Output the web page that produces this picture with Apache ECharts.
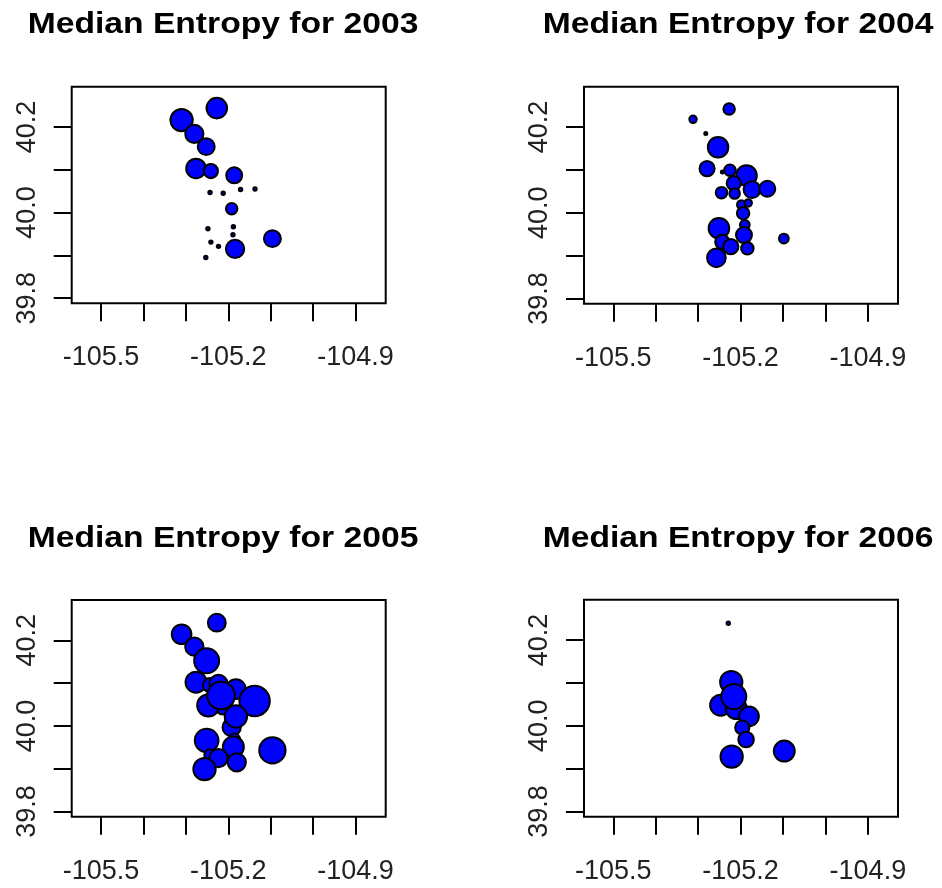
<!DOCTYPE html>
<html>
<head>
<meta charset="utf-8">
<script src="https://cdn.jsdelivr.net/npm/echarts@6/dist/echarts.min.js"></script>
<style>html,body{margin:0;padding:0;background:#fff}#c{width:942px;height:888px}</style>
</head>
<body>
<div id="c"></div>
<script>
// ---- data ----
const years = ['2003', '2004', '2005', '2006'];

const lon2003 = [-105.227,-105.310,-105.280,-105.252,-105.276,-105.241,-105.186,-105.243,-105.212,-105.171,-105.137,-105.192,-105.248,-105.188,-105.189,-105.241,-105.223,-105.184,-105.096,-105.253];
const lat2003 = [40.244,40.216,40.184,40.154,40.103,40.097,40.087,40.047,40.045,40.054,40.055,40.009,39.962,39.967,39.948,39.931,39.921,39.915,39.939,39.895];
const ent2003 = [1.67,1.80,1.50,1.40,1.60,1.20,1.33,0.40,0.40,0.40,0.40,1.00,0.40,0.40,0.40,0.40,0.40,1.50,1.40,0.40];

const lon2004 = [-105.227,-105.312,-105.282,-105.253,-105.279,-105.225,-105.243,-105.186,-105.216,-105.245,-105.214,-105.173,-105.137,-105.198,-105.182,-105.194,-105.190,-105.251,-105.192,-105.243,-105.223,-105.184,-105.098,-105.257];
const lat2004 = [40.242,40.218,40.185,40.153,40.103,40.099,40.095,40.087,40.069,40.047,40.045,40.054,40.056,40.019,40.023,39.999,39.972,39.964,39.948,39.932,39.921,39.917,39.940,39.895];
const ent2004 = [1.00,0.70,0.35,1.67,1.27,1.00,0.35,1.67,1.20,1.00,0.93,1.40,1.33,0.80,0.70,1.07,0.87,1.67,1.33,1.20,1.27,1.07,0.87,1.53];

const lon2005 = [-105.227,-105.310,-105.280,-105.251,-105.276,-105.243,-105.223,-105.182,-105.212,-105.247,-105.217,-105.138,-105.192,-105.182,-105.186,-105.251,-105.243,-105.188,-105.223,-105.180,-105.256,-105.096];
const lat2005 = [40.241,40.214,40.185,40.152,40.102,40.095,40.098,40.086,40.048,40.048,40.071,40.058,39.997,40.022,39.969,39.966,39.932,39.951,39.925,39.915,39.899,39.943];
const ent2005 = [1.47,1.60,1.50,2.00,1.70,1.20,1.50,1.60,1.50,1.80,2.20,2.40,1.50,1.80,1.00,1.90,1.00,1.70,1.50,1.50,1.80,2.10];

const lon2006 = [-105.229,-105.222,-105.247,-105.210,-105.216,-105.180,-105.196,-105.187,-105.221,-105.097];
const lat2006 = [40.239,40.102,40.048,40.040,40.068,40.022,39.996,39.968,39.928,39.941];
const ent2006 = [0.40,1.80,1.70,1.70,2.00,1.60,1.20,1.30,1.80,1.70];

const xTicks = [-105.5,-105.4,-105.3,-105.2,-105.1,-105.0,-104.9];
const xTickLabels = [-105.5,-105.2,-104.9];
const yTicks = [39.8,39.9,40.0,40.1,40.2];
const yTickLabels = [39.8,40.0,40.2];

const lons = [lon2003, lon2004, lon2005, lon2006];
const lats = [lat2003, lat2004, lat2005, lat2006];
const ents = [ent2003, ent2004, ent2005, ent2006];

// ---- layout ----
const panels = [
  {left: 71.7, top: 86.7, width: 314, height: 216.6, tx: 223, ty: 25},
  {left: 584,  top: 86.7, width: 314, height: 217,   tx: 738, ty: 25},
  {left: 71.7, top: 600,  width: 314, height: 216.7, tx: 223, ty: 539},
  {left: 584,  top: 599.7,width: 314, height: 217,   tx: 738, ty: 539}
];
const XMIN = -105.569, XMAX = -104.829, YMIN = 39.788, YMAX = 40.294;
const labelFont = {fontFamily: 'Liberation Sans, Arial, sans-serif', fontSize: 27, color: '#222'};

const chart = echarts.init(document.getElementById('c'), null, {renderer: 'canvas'});

const grid = [], xAxis = [], yAxis = [], series = [], graphic = [];
panels.forEach((p, i) => {
  grid.push({left: p.left, top: p.top, width: p.width, height: p.height, show: true,
             borderColor: '#000', borderWidth: 2, backgroundColor: 'transparent', containLabel: false});
  xAxis.push({type: 'value', gridIndex: i, min: XMIN, max: XMAX,
    axisLine: {show: false}, splitLine: {show: false},
    axisTick: {show: true, inside: false, length: 18, customValues: xTicks, lineStyle: {color: '#000', width: 2}},
    axisLabel: Object.assign({customValues: xTickLabels, margin: 41, formatter: v => v.toFixed(1)}, labelFont)
  });
  yAxis.push({type: 'value', gridIndex: i, min: YMIN, max: YMAX,
    axisLine: {show: false}, splitLine: {show: false},
    axisTick: {show: true, inside: false, length: 18, customValues: yTicks, lineStyle: {color: '#000', width: 2}},
    axisLabel: Object.assign({customValues: yTickLabels, rotate: 90, margin: 31, formatter: v => v.toFixed(1)}, labelFont)
  });
  const data = lons[i].map((lo, k) => [lo, lats[i][k], ents[i][k]]);
  series.push({type: 'scatter', xAxisIndex: i, yAxisIndex: i, data: data,
    symbol: 'circle', symbolSize: v => Math.max(v[2] * 13.5 - 2, 3),
    itemStyle: {color: '#0000FF', borderColor: '#000', borderWidth: 2, opacity: 1},
    emphasis: {disabled: true}, animation: false, clip: false});
  graphic.push({type: 'text', x: p.tx, y: p.ty, scaleX: 1.16,
    style: {text: 'Median Entropy for ' + years[i], fontFamily: 'Liberation Sans, Arial, sans-serif',
            fontWeight: 'bold', fontSize: 29, fill: '#000', align: 'center', verticalAlign: 'middle'}});
});

chart.setOption({animation: false, grid, xAxis, yAxis, series, graphic});
</script>
</body>
</html>
